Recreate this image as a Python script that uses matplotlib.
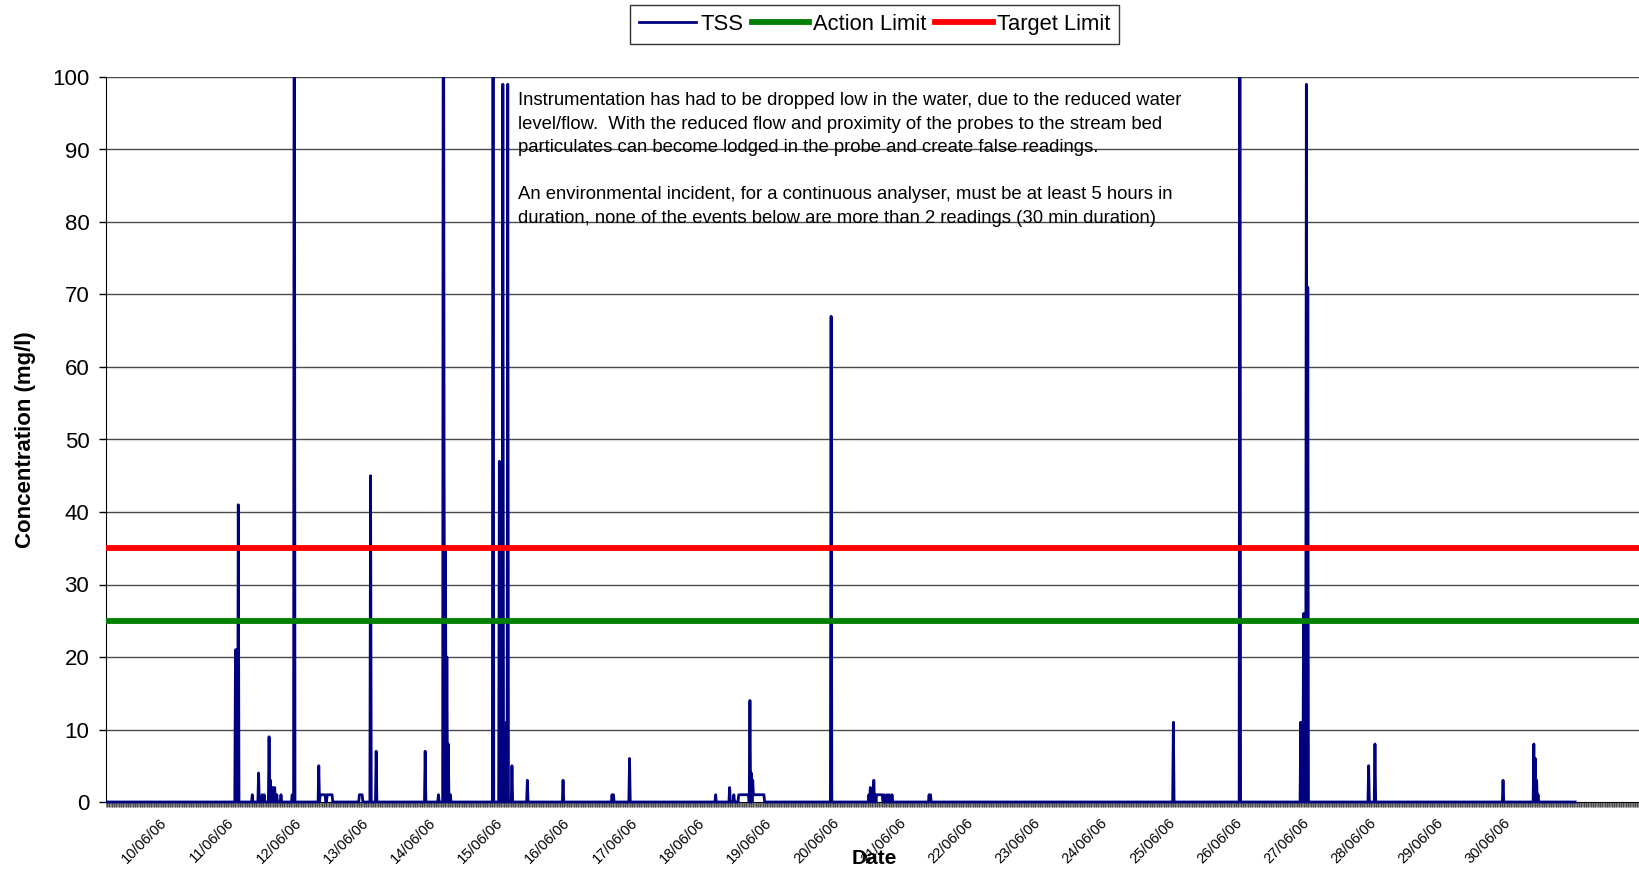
import matplotlib
matplotlib.use("Agg")
import matplotlib.pyplot as plt
import numpy as np
from matplotlib.patches import Rectangle

plt.rcParams['font.family'] = ['Liberation Sans', 'DejaVu Sans']

# time axis: days from start of the record, 15 minute readings
step_per_day = 96
record_end = 21.86
axis_end = 22.83

date_labels = ['10/06/06', '11/06/06', '12/06/06', '13/06/06', '14/06/06', '15/06/06',
               '16/06/06', '17/06/06', '18/06/06', '19/06/06', '20/06/06', '21/06/06',
               '22/06/06', '23/06/06', '24/06/06', '25/06/06', '26/06/06', '27/06/06',
               '28/06/06', '29/06/06', '30/06/06']
first_label_day = 0.8

# non-zero TSS readings (day, mg/l); everything else reads 0
spike_day = [1.927, 1.94, 1.97, 2.18, 2.27, 2.32, 2.35, 2.43, 2.45, 2.48, 2.51, 2.54, 2.60,
             2.77, 2.80, 3.17, 3.94, 4.02, 4.75, 4.95, 5.02, 5.035, 5.05, 5.07, 5.09, 5.12,
             5.76, 5.85, 5.91, 5.96, 5.98, 6.04, 6.27, 6.80, 7.53, 7.55, 7.79,
             9.07, 9.28, 9.34, 9.58, 9.60, 9.62, 10.79,
             11.35, 11.37, 11.40, 11.43, 11.45, 11.58, 11.62, 11.66, 11.70, 12.25, 12.27,
             15.89, 16.88, 17.78, 17.82, 17.86, 17.89, 18.79, 18.89, 20.79,
             21.25, 21.27, 21.29, 21.31]
spike_val = [21, 21, 41, 1, 4, 1, 1, 9, 3, 2, 2, 1, 1,
             1, 150, 5, 45, 7, 7, 1, 150, 50, 35, 20, 8, 1,
             150, 47, 99, 11, 99, 5, 3, 3, 1, 1, 6,
             1, 2, 1, 14, 4, 3, 67,
             1, 2, 1, 3, 1, 1, 1, 1, 1, 1, 1,
             11, 150, 11, 26, 99, 71, 5, 8, 3,
             8, 6, 3, 1]
# flat stretches at 1 mg/l (start day, end day)
plateau_start = [3.19, 3.29, 3.77, 9.42, 9.64, 11.47]
plateau_end = [3.26, 3.36, 3.81, 9.56, 9.79, 11.55]
plateau_val = [1, 1, 1, 1, 1, 1]

action_limit = 25
target_limit = 35

n = int(round(record_end * step_per_day)) + 1
t = np.arange(n) / step_per_day
tss = np.zeros(n)
for s, e, v in zip(plateau_start, plateau_end, plateau_val):
    tss[int(round(s * step_per_day)):int(round(e * step_per_day)) + 1] = v
for d, v in zip(spike_day, spike_val):
    tss[int(round(d * step_per_day))] = v

fig = plt.figure(figsize=(16.4, 8.71), dpi=100)
ax = fig.add_axes([106 / 1640, 1 - 802 / 871, 1 - 106 / 1640, (802 - 77) / 871])

for yv in range(10, 101, 10):
    ax.axhline(yv, color='#4a4a4a', lw=1.0, zorder=1)

line, = ax.plot(t, tss, color='#000080', lw=2.0, zorder=3, label='TSS')
line.set_clip_path(Rectangle((0, -0.05), 1, 1.05, transform=ax.transAxes))
ax.axhline(action_limit, color='#008000', lw=4.2, zorder=4, label='Action Limit')
ax.axhline(target_limit, color='#ff0000', lw=4.2, zorder=4, label='Target Limit')

ax.set_xlim(0, axis_end)
ax.set_ylim(0, 100)
ax.set_yticks(range(0, 101, 10))
ax.tick_params(axis='y', direction='out', length=5, width=1, pad=7, labelsize=16)

ax.set_xticks(first_label_day + np.arange(len(date_labels)))
ax.set_xticklabels(date_labels, rotation=45, ha='right', va='top',
                   rotation_mode='anchor', fontsize=10.5)
ax.tick_params(axis='x', which='major', length=0, pad=10)
ax.set_xticks(np.arange(0, axis_end, 1 / step_per_day), minor=True)
ax.tick_params(axis='x', which='minor', direction='out', length=3.5, width=0.4, color='#222222')

ax.spines['top'].set_visible(False)
ax.spines['right'].set_visible(False)
ax.spines['left'].set_color('black')
ax.spines['bottom'].set_color('black')

note = ("Instrumentation has had to be dropped low in the water, due to the reduced water\n"
        "level/flow.  With the reduced flow and proximity of the probes to the stream bed\n"
        "particulates can become lodged in the probe and create false readings.\n"
        "\n"
        "An environmental incident, for a continuous analyser, must be at least 5 hours in\n"
        "duration, none of the events below are more than 2 readings (30 min duration)")
ax.text((518 - 106) / 67.2, 97.9, note, ha='left', va='top', fontsize=13.3,
        linespacing=1.5, zorder=5)

fig.text(26 / 1640, 1 - 440 / 871, 'Concentration (mg/l)', rotation=90, ha='center',
         va='center', fontsize=16, fontweight='bold')
fig.text(874 / 1640, 1 - 858 / 871, 'Date', ha='center', va='center', fontsize=15,
         fontweight='bold')

leg = fig.legend(loc='upper center', bbox_to_anchor=(874.5 / 1640, 1 - 5 / 871), ncol=3,
                 fontsize=15.8, frameon=True, fancybox=False, edgecolor='black',
                 handlelength=2.6, handletextpad=0.2, columnspacing=0.4, borderpad=0.4,
                 borderaxespad=0)
leg.get_frame().set_linewidth(1.0)

fig.savefig('out.png', dpi=100)
